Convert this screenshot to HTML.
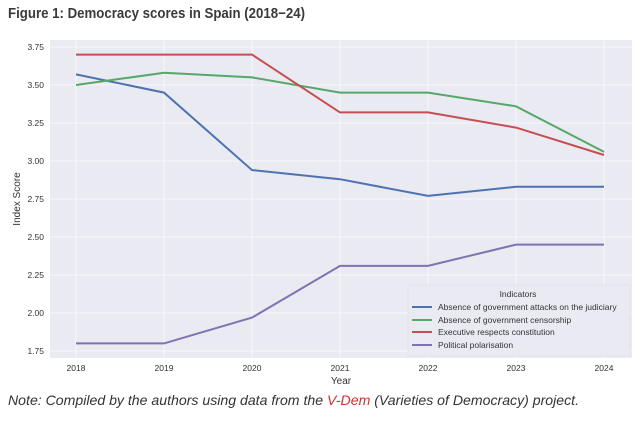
<!DOCTYPE html><html><head><meta charset="utf-8"><style>
body{margin:0;background:#fff;width:640px;height:416px;overflow:hidden;font-family:"Liberation Sans",sans-serif}
</style></head><body>
<svg width="640" height="416" xmlns="http://www.w3.org/2000/svg" font-family="Liberation Sans, sans-serif">
<text x="8" y="18" font-size="14.5" font-weight="bold" fill="#3a3a3a" textLength="297" lengthAdjust="spacingAndGlyphs">Figure 1: Democracy scores in Spain (2018−24)</text>
<rect x="50" y="40" width="582" height="318" fill="#eaeaf2"/>
<g stroke="#f6f6fa" stroke-width="1">
<line x1="76" y1="40" x2="76" y2="358"/><line x1="164" y1="40" x2="164" y2="358"/><line x1="252" y1="40" x2="252" y2="358"/><line x1="340" y1="40" x2="340" y2="358"/><line x1="428" y1="40" x2="428" y2="358"/><line x1="516" y1="40" x2="516" y2="358"/><line x1="604" y1="40" x2="604" y2="358"/>
<line x1="50" y1="47" x2="632" y2="47"/><line x1="50" y1="85" x2="632" y2="85"/><line x1="50" y1="123" x2="632" y2="123"/><line x1="50" y1="161" x2="632" y2="161"/><line x1="50" y1="199" x2="632" y2="199"/><line x1="50" y1="237" x2="632" y2="237"/><line x1="50" y1="275" x2="632" y2="275"/><line x1="50" y1="313" x2="632" y2="313"/><line x1="50" y1="351" x2="632" y2="351"/>
</g>
<g font-size="8.5" fill="#333" text-anchor="end">
<text x="44" y="50">3.75</text><text x="44" y="88">3.50</text><text x="44" y="126">3.25</text><text x="44" y="164">3.00</text><text x="44" y="202">2.75</text><text x="44" y="240">2.50</text><text x="44" y="278">2.25</text><text x="44" y="316">2.00</text><text x="44" y="354">1.75</text>
</g>
<g font-size="8.5" fill="#333" text-anchor="middle">
<text x="76" y="371">2018</text><text x="164" y="371">2019</text><text x="252" y="371">2020</text><text x="340" y="371">2021</text><text x="428" y="371">2022</text><text x="516" y="371">2023</text><text x="604" y="371">2024</text>
<text x="341" y="384" font-size="10">Year</text>
</g>
<text transform="translate(20,199) rotate(-90)" font-size="10" fill="#333" text-anchor="middle">Index Score</text>
<g fill="none" stroke-width="2">
<polyline stroke="#4c72b0" points="76,74.4 164,92.6 252,170.1 340,179.2 428,195.9 516,186.8 604,186.8"/>
<polyline stroke="#55a868" points="76,85 164,72.8 252,77.4 340,92.6 428,92.6 516,106.3 604,151.9"/>
<polyline stroke="#c44e52" points="76,54.6 164,54.6 252,54.6 340,112.4 428,112.4 516,127.6 604,155"/>
<polyline stroke="#8172b2" points="76,343.4 164,343.4 252,317.6 340,265.9 428,265.9 516,244.6 604,244.6"/>
</g>
<rect x="408" y="285" width="222" height="71" fill="#eaeaf2" stroke="#dcdce6" stroke-width="0.5"/>
<text x="518" y="297" font-size="8.5" fill="#333" text-anchor="middle">Indicators</text>
<g stroke-width="2"><line x1="412" y1="307" x2="432" y2="307" stroke="#4c72b0"/><line x1="412" y1="320" x2="432" y2="320" stroke="#55a868"/><line x1="412" y1="332" x2="432" y2="332" stroke="#c44e52"/><line x1="412" y1="345" x2="432" y2="345" stroke="#8172b2"/></g>
<g font-size="8.5" fill="#333">
<text x="438" y="310">Absence of government attacks on the judiciary</text>
<text x="438" y="323">Absence of government censorship</text>
<text x="438" y="335">Executive respects constitution</text>
<text x="438" y="348">Political polarisation</text>
</g>
<text x="8" y="405" font-size="14" font-style="italic" fill="#333" textLength="571" lengthAdjust="spacingAndGlyphs">Note: Compiled by the authors using data from the <tspan fill="#d0312d">V-Dem</tspan> (Varieties of Democracy) project.</text>
</svg>
</body></html>
